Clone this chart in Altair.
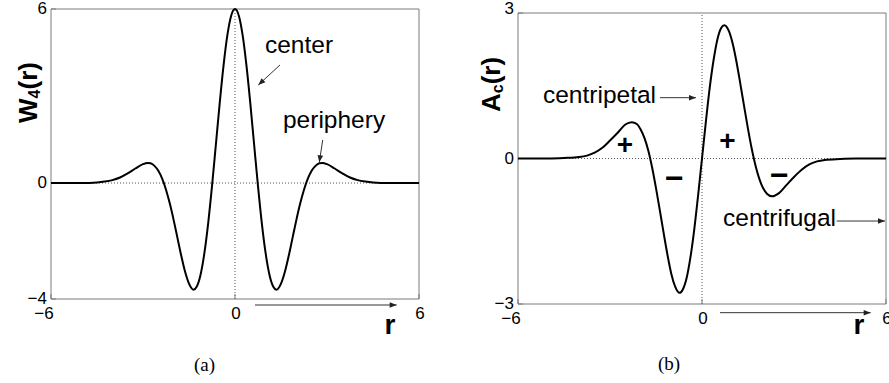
import altair as alt
import pandas as pd

FONT = "Liberation Sans"
SERIF = "Liberation Serif"
W, H = 889, 383

# ---------------- panel (a): W4(r) ----------------
r_a = [-6.0, -5.5, -5.0, -4.5, -4.25, -4.0, -3.75, -3.5, -3.25, -3.0, -2.85, -2.75,
       -2.625, -2.5, -2.375, -2.25, -2.125, -2.0, -1.875, -1.75, -1.625, -1.5, -1.35,
       -1.25, -1.125, -1.0, -0.875, -0.75, -0.625, -0.5, -0.375, -0.25, -0.125, 0.0,
       0.125, 0.25, 0.375, 0.5, 0.625, 0.75, 0.875, 1.0, 1.125, 1.25, 1.35, 1.5,
       1.625, 1.75, 1.875, 2.0, 2.125, 2.25, 2.375, 2.5, 2.625, 2.75, 2.85, 3.0,
       3.25, 3.5, 3.75, 4.0, 4.25, 4.5, 5.0, 5.5, 6.0]
w_a = [0.00, 0.00, 0.00, 0.02, 0.05, 0.10, 0.19, 0.33, 0.50, 0.65, 0.69, 0.68,
       0.59, 0.42, 0.15, -0.23, -0.71, -1.28, -1.90, -2.52, -3.07, -3.47, -3.68,
       -3.58, -3.17, -2.43, -1.39, -0.11, 1.31, 2.74, 4.04, 5.09, 5.77, 6.00,
       5.77, 5.09, 4.04, 2.74, 1.31, -0.11, -1.39, -2.43, -3.17, -3.58, -3.68, -3.47,
       -3.07, -2.52, -1.90, -1.28, -0.71, -0.23, 0.15, 0.42, 0.59, 0.68, 0.69, 0.65,
       0.50, 0.33, 0.19, 0.10, 0.05, 0.02, 0.00, 0.00, 0.00]
x_ticks_a = [-6, 0, 6]
y_ticks_a = [-4, 0, 6]

# ---------------- panel (b): A_c(r) ----------------
r_b = [-6.0, -5.0, -4.5, -4.0, -3.75, -3.5, -3.25, -3.0, -2.75, -2.5, -2.29, -2.125,
       -2.0, -1.875, -1.75, -1.625, -1.5, -1.375, -1.25, -1.125, -1.0, -0.875, -0.73,
       -0.625, -0.5, -0.375, -0.25, -0.125, 0.0,
       0.125, 0.25, 0.375, 0.5, 0.625, 0.73, 0.875, 1.0, 1.125, 1.25, 1.375, 1.5,
       1.625, 1.75, 1.875, 2.0, 2.125, 2.29, 2.5, 2.75, 3.0, 3.25, 3.5, 3.75, 4.0,
       4.5, 5.0, 6.0]
a_b = [0.00, 0.00, 0.01, 0.03, 0.06, 0.12, 0.22, 0.37, 0.53, 0.70, 0.75, 0.71,
       0.60, 0.42, 0.16, -0.19, -0.61, -1.07, -1.54, -1.99, -2.38, -2.64, -2.77,
       -2.70, -2.46, -2.03, -1.45, -0.75, 0.00,
       0.75, 1.45, 2.02, 2.45, 2.69, 2.75, 2.63, 2.37, 1.99, 1.54, 1.07, 0.61,
       0.19, -0.16, -0.43, -0.62, -0.73, -0.78, -0.72, -0.55, -0.38, -0.23, -0.12,
       -0.06, -0.03, -0.01, 0.00, 0.00]
x_ticks_b = [-6, 0, 6]
y_ticks_b = [-3, 0, 3]

# arrowhead with its tip at the symbol origin, pointing up before rotation
ARROW = "M0,0L-0.8,2L0.8,2Z"


def fmt(v):
    return str(v).replace("-", "\u2212")


def build_panel(r_vals, y_vals, x_ticks, y_ticks, x_rng, y_rng, texts, arrows,
                title_parts, title_anchor, top_label_dy=0):
    sx = alt.Scale(domain=[x_ticks[0], x_ticks[-1]], range=x_rng, nice=False, zero=False)
    sy = alt.Scale(domain=[y_ticks[0], y_ticks[-1]], range=y_rng, nice=False, zero=False)
    X = alt.X("x:Q", scale=sx, axis=None)
    Y = alt.Y("y:Q", scale=sy, axis=None)
    xmin, xmax = x_ticks[0], x_ticks[-1]
    ymin, ymax = y_ticks[0], y_ticks[-1]
    ux = (xmax - xmin) / (x_rng[1] - x_rng[0])   # data units per pixel
    uy = (ymax - ymin) / (y_rng[0] - y_rng[1])
    tick_len = 5

    layers = []
    # box
    frame = pd.DataFrame({"x": [xmin], "x2": [xmax], "y": [ymin], "y2": [ymax]})
    layers.append(alt.Chart(frame).mark_rect(fillOpacity=0, stroke="#7a7a7a", strokeWidth=1)
                  .encode(x=X, x2="x2:Q", y=Y, y2="y2:Q"))
    # dotted zero lines
    zh = pd.DataFrame({"x": [xmin], "x2": [xmax], "y": [0]})
    zv = pd.DataFrame({"x": [0], "y": [ymin], "y2": [ymax]})
    dot = dict(color="#555555", strokeWidth=1, strokeDash=[1, 2])
    layers.append(alt.Chart(zh).mark_rule(**dot).encode(x=X, x2="x2:Q", y=Y))
    layers.append(alt.Chart(zv).mark_rule(**dot).encode(x=X, y=Y, y2="y2:Q"))
    # inward ticks
    yt = pd.DataFrame({"x": [xmin] * len(y_ticks), "x2": [xmin + tick_len * ux] * len(y_ticks),
                       "y": y_ticks})
    xt = pd.DataFrame({"x": x_ticks, "y": [ymin] * len(x_ticks),
                       "y2": [ymin + tick_len * uy] * len(x_ticks)})
    layers.append(alt.Chart(yt).mark_rule(color="#7a7a7a").encode(x=X, x2="x2:Q", y=Y))
    layers.append(alt.Chart(xt).mark_rule(color="#7a7a7a").encode(x=X, y=Y, y2="y2:Q"))
    # curve
    curve = pd.DataFrame({"x": r_vals, "y": y_vals})
    layers.append(alt.Chart(curve).mark_line(color="black", strokeWidth=2, interpolate="monotone")
                  .encode(x=X, y=Y))
    # tick labels
    ylab = pd.DataFrame({"x": [xmin] * len(y_ticks), "y": y_ticks, "t": [fmt(v) for v in y_ticks]})
    lab = dict(font=FONT, fontSize=17, color="black")
    layers.append(alt.Chart(ylab.iloc[:-1]).mark_text(align="right", baseline="middle", dx=-4, **lab)
                  .encode(x=X, y=Y, text="t:N"))
    layers.append(alt.Chart(ylab.iloc[-1:]).mark_text(align="right", baseline="middle", dx=-4,
                                                      dy=top_label_dy, **lab)
                  .encode(x=X, y=Y, text="t:N"))
    xlab = pd.DataFrame({"x": x_ticks, "y": [ymin] * len(x_ticks), "t": [fmt(v) for v in x_ticks]})
    neg = xlab[xlab["x"] < 0]
    pos = xlab[xlab["x"] >= 0]
    layers.append(alt.Chart(neg).mark_text(align="center", baseline="middle", dx=-7, dy=15, **lab)
                  .encode(x=X, y=Y, text="t:N"))
    layers.append(alt.Chart(pos).mark_text(align="center", baseline="middle", dx=1, dy=15, **lab)
                  .encode(x=X, y=Y, text="t:N"))
    # arrows
    arr = pd.DataFrame(arrows, columns=["x", "y", "x2", "y2", "a"])
    layers.append(alt.Chart(arr).mark_rule(color="#333333", strokeWidth=1)
                  .encode(x=X, y=Y, x2="x2:Q", y2="y2:Q"))
    heads = pd.DataFrame({"x": arr["x2"], "y": arr["y2"], "a": arr["a"]})
    layers.append(alt.Chart(heads).mark_point(shape=ARROW, filled=True, size=49, color="#222222",
                                             strokeWidth=0, opacity=1)
                  .encode(x=X, y=Y, angle=alt.Angle("a:Q", scale=None)))
    # annotation texts
    for (tx, ty, t, kw) in texts:
        df = pd.DataFrame({"x": [tx], "y": [ty], "t": [t]})
        style = dict(font=FONT, color="black")
        style.update(kw)
        layers.append(alt.Chart(df).mark_text(**style).encode(x=X, y=Y, text="t:N"))
    # rotated axis title built from pieces (main letter, subscript, argument)
    ax, ay = title_anchor
    for (t, size, dx, dy) in title_parts:
        df = pd.DataFrame({"x": [ax], "y": [ay], "t": [t]})
        layers.append(alt.Chart(df).mark_text(font=FONT, fontWeight="bold", fontSize=size,
                                              angle=270, align="left", baseline="alphabetic",
                                              dx=dx, dy=dy, color="black")
                      .encode(x=X, y=Y, text="t:N"))
    return alt.layer(*layers)


ann = dict(fontSize=24.5, align="left", baseline="alphabetic")
plus = dict(fontSize=28, fontWeight="bold", align="center", baseline="middle")
minus = dict(fontSize=32, fontWeight="bold", align="center", baseline="middle")
rlab = dict(fontSize=28, fontWeight="bold", align="center", baseline="alphabetic")
cap = dict(font=SERIF, fontSize=19, align="center", baseline="middle")

panel_a = build_panel(
    r_a, w_a, x_ticks_a, y_ticks_a, [51, 419], [299, 9],
    texts=[
        (0.978, 4.48, "center", ann),
        (1.565, 1.897, "periphery", ann),
        (5.054, -5.207, "r", rlab),
        (-0.995, -6.276, "(a)", cap),
    ],
    arrows=[
        (1.467, 4.069, 0.760, 3.379, 227.3),
        (2.860, 1.483, 2.749, 0.714, 188.7),
        (0.652, -4.207, 5.273, -4.207, 90),
    ],
    title_parts=[("W", 26, 0, 0), ("4", 16, 24.5, 3), ("(r)", 26, 33.5, 0)],
    title_anchor=(-6.4565, 2.069),
)

panel_b = build_panel(
    r_b, a_b, x_ticks_b, y_ticks_b, [518, 886], [304, 13],
    texts=[
        (-5.185, 1.144, "centripetal", ann),
        (0.685, -1.392, "centrifugal", ann),
        (-2.511, 0.264, "+", plus),
        (0.825, 0.346, "+", plus),
        (-0.903, -0.423, "\u2212", minus),
        (2.521, -0.361, "\u2212", minus),
        (5.120, -3.619, "r", rlab),
        (-1.076, -4.237, "(b)", cap),
    ],
    arrows=[
        (-1.370, 1.254, -0.196, 1.254, 90),
        (4.392, -1.289, 5.967, -1.289, 90),
        (0.587, -3.179, 5.501, -3.179, 90),
    ],
    title_parts=[("A", 26, 0, 0), ("c", 16, 18.8, 3), ("(r)", 26, 27.7, 0)],
    title_anchor=(-6.587, 0.959),
    top_label_dy=-4.5,
)

chart = (
    alt.layer(panel_a, panel_b)
    .resolve_scale(x="independent", y="independent")
    .properties(width=W, height=H, padding=0, autosize=alt.AutoSizeParams(type="none"))
    .configure_view(stroke=None)
)

chart.save("out.html", embed_options={"renderer": "svg", "actions": False})
